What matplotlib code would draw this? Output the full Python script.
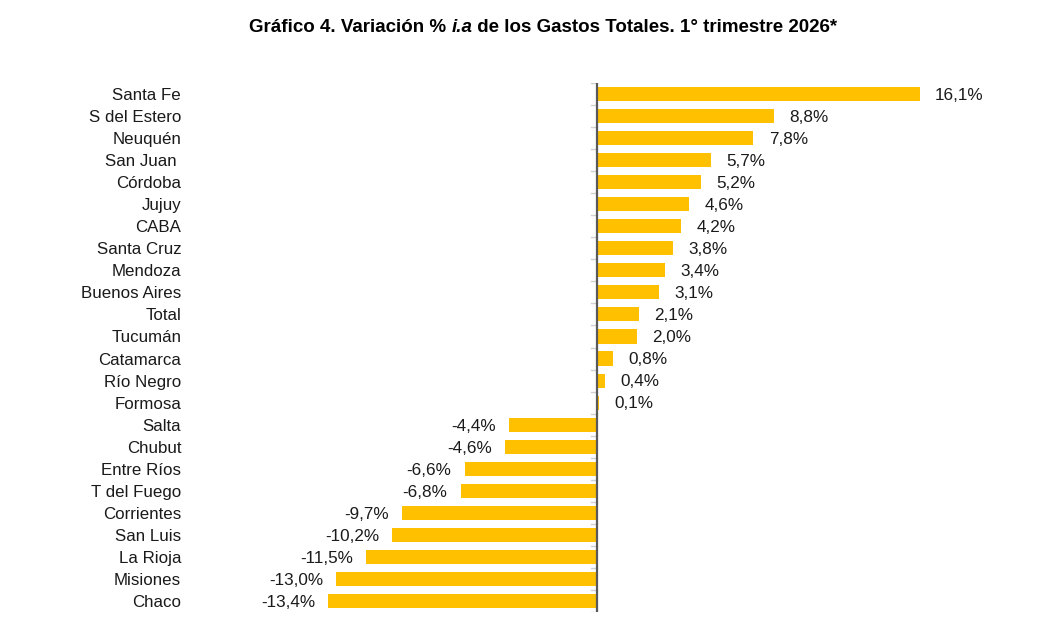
import matplotlib.pyplot as plt
from matplotlib import font_manager

provincias = ['Santa Fe', 'S del Estero', 'Neuquén', 'San Juan ', 'Córdoba', 'Jujuy', 'CABA',
              'Santa Cruz', 'Mendoza', 'Buenos Aires', 'Total', 'Tucumán', 'Catamarca',
              'Río Negro', 'Formosa', 'Salta', 'Chubut', 'Entre Ríos', 'T del Fuego',
              'Corrientes', 'San Luis', 'La Rioja', 'Misiones', 'Chaco']
variacion = [16.1, 8.8, 7.8, 5.7, 5.2, 4.6, 4.2, 3.8, 3.4, 3.1, 2.1, 2.0, 0.8, 0.4, 0.1,
             -4.4, -4.6, -6.6, -6.8, -9.7, -10.2, -11.5, -13.0, -13.4]

names = {f.name for f in font_manager.fontManager.ttflist}
narrow = 'Liberation Sans Narrow' if 'Liberation Sans Narrow' in names else 'Liberation Sans'
plt.rcParams['font.family'] = ['Liberation Sans', 'DejaVu Sans']

W, H = 1060, 633
fig = plt.figure(figsize=(W / 100, H / 100), dpi=100)
# axes: left 186px .. right 1040px, top 83px .. bottom 612px
ax = fig.add_axes([186 / W, 1 - 612 / H, (1040 - 186) / W, (612 - 83) / H])

x0 = -(597 - 186) / 20.06
x1 = (1040 - 597) / 20.06
ypos = list(range(len(provincias)))

ax.barh(ypos, variacion, height=0.64, color='#FFC000', zorder=2)
ax.set_xlim(x0, x1)
ax.set_ylim(len(provincias) - 0.5, -0.5)

for y, v in zip(ypos, variacion):
    txt = f'{v:.1f}%'.replace('.', ',')
    if v >= 0:
        ax.annotate(txt, (v, y), xytext=(11, -1), textcoords='offset points',
                    ha='left', va='center', fontsize=12.3, color='#1a1a1a')
    else:
        ax.annotate(txt, (v, y), xytext=(-9.5, -1), textcoords='offset points',
                    ha='right', va='center', fontsize=12.3, color='#1a1a1a')

# zero axis with small ticks
ax.axvline(0, color='#595959', lw=1.6, zorder=3)
for b in range(len(provincias) + 1):
    ax.plot([-0.3, 0], [b - 0.5, b - 0.5], color='#d0d0d0', lw=1, zorder=1)

ax.set_yticks(ypos)
ax.set_yticklabels(provincias, fontsize=12.2, color='#1a1a1a')
ax.tick_params(axis='y', length=0, pad=3.5)
ax.set_xticks([])
for s in ax.spines.values():
    s.set_visible(False)

# title in pieces (italic "i.a")
parts = [('Gráfico 4. Variación % ', 'normal'), ('i.a', 'italic'),
         (' de los Gastos Totales. 1° trimestre 2026*', 'normal')]
fig.canvas.draw()
r = fig.canvas.get_renderer()
texts = []
for s, st in parts:
    t = fig.text(0, 1 - 27 / H, s, fontsize=13.5, fontweight='bold', style=st,
                 family=[narrow, 'DejaVu Sans'], va='center', ha='left')
    texts.append(t)
widths = [t.get_window_extent(r).width for t in texts]
x = (543 - sum(widths) / 2)
for t, w in zip(texts, widths):
    t.set_x(x / W)
    x += w

fig.savefig('out.png', dpi=100)
